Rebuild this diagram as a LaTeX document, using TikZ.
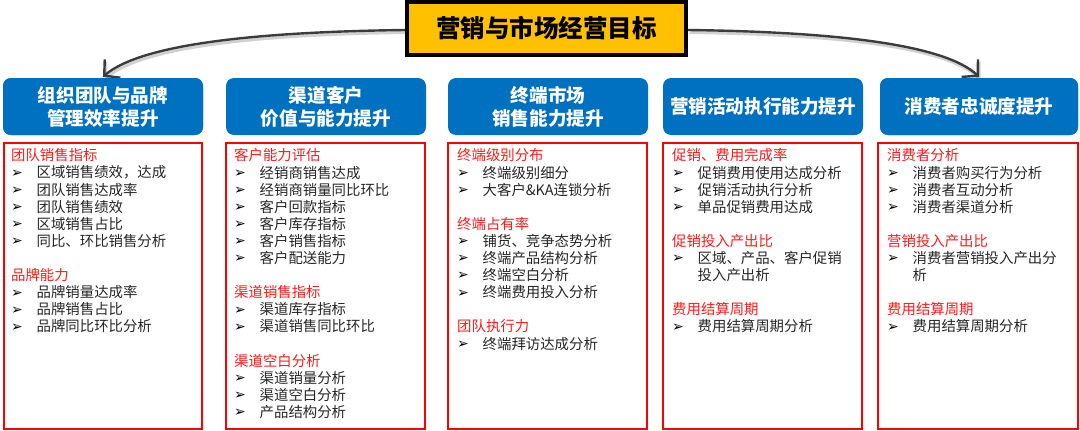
\documentclass[tikz,border=0pt]{standalone}
\usepackage{fontspec}
\setmainfont{Noto Sans CJK SC}
\newfontfamily\dejavu{DejaVu Sans}
\usetikzlibrary{arrows.meta}
\definecolor{hblue}{HTML}{0070C0}
\definecolor{tyellow}{HTML}{FFC000}
\definecolor{hred}{HTML}{FF1A1A}
\definecolor{itext}{HTML}{262626}
\definecolor{curvecol}{HTML}{3C3C3C}
\def\xa{11}\def\xb{234}\def\xc{457}\def\xd{672}\def\xe{887}
\newcommand\rowy[1]{155.5+17.1*#1}
\newcommand\hd[3]{\node[hdtext] (#1#2) at ({\csname x#1\endcsname},{\rowy{#2}}) {#3};}
\newcommand\itm[3]{\node[bul] (#1#2b) at ({\csname x#1\endcsname},{\rowy{#2}+1}) {➢};
  \node[itx] (#1#2) at ({\csname x#1\endcsname+25.5},{\rowy{#2}}) {#3};}
\newcommand\cont[3]{\node[itx] (#1#2) at ({\csname x#1\endcsname+25.5},{\rowy{#2}}) {#3};}
\begin{document}
\begin{tikzpicture}[x=1pt,y=-1pt,
  titlebox/.style={draw=black, line width=4pt, fill=tyellow, minimum width=279pt, minimum height=53pt, inner sep=0pt,
    font=\fontsize{24.5}{28}\selectfont\bfseries, text=black},
  hdrbox/.style={fill=hblue, rounded corners=8pt, minimum width=200pt, minimum height=57pt, inner sep=0pt,
    align=center, text=white, font=\fontsize{18.6}{23}\selectfont\bfseries},
  redbox/.style={draw=red, line width=1.5pt, minimum height=286pt, inner sep=0pt},
  hdtext/.style={anchor=west, inner sep=0pt, text=hred, font=\fontsize{14.4}{17}\selectfont},
  itx/.style={anchor=west, inner sep=0pt, text=itext, font=\fontsize{14.4}{17}\selectfont},
  bul/.style={anchor=west, inner sep=0pt, text=black, font=\dejavu\bfseries\fontsize{14}{16}\selectfont},
  tipstyle/.style={-{Straight Barb[length=11pt,width=24pt,line width=2.4pt]}},
  curveline/.style={draw=curvecol, line width=2.4pt, tipstyle},
  curveshadow/.style={draw=black, opacity=0.18, line width=3pt, tipstyle}
]
\useasboundingbox (0,0) rectangle (1080,431);
% nodes
\node[titlebox] (t) at (546.5,28.5) {营销与市场经营目标};
\node[hdrbox] (h1) at (103,106.5) {组织团队与品牌\\管理效率提升};
\node[hdrbox] (h2) at (326,106.5) {渠道客户\\价值与能力提升};
\node[hdrbox] (h3) at (548,106.5) {终端市场\\销售能力提升};
\node[hdrbox] (h4) at (763,106.5) {营销活动执行能力提升};
\node[hdrbox, minimum width=198pt] (h5) at (979,106.5) {消费者忠诚度提升};
% connectors
\draw[curveshadow, transform canvas={xshift=1.5pt,yshift=-2.5pt}] ([yshift=-1.5pt]t.west) .. controls (250,32) and (140,45) .. ([yshift=1pt]h1.north);
\draw[curveshadow, transform canvas={xshift=1.5pt,yshift=-2.5pt}] ([yshift=-1.5pt]t.east) .. controls (840,32) and (945,45) .. ([yshift=1pt]h5.north);
\draw[curveline] ([yshift=-1.5pt]t.west) .. controls (250,32) and (140,45) .. ([yshift=1pt]h1.north);
\draw[curveline] ([yshift=-1.5pt]t.east) .. controls (840,32) and (945,45) .. ([yshift=1pt]h5.north);
% redraw boxes on top
\node[titlebox] at (t) {营销与市场经营目标};
\node[hdrbox] at (h1) {组织团队与品牌\\管理效率提升};
\node[hdrbox] at (h5) [minimum width=198pt] {消费者忠诚度提升};
% red boxes
\node[redbox, minimum width=198pt] (r1) at (103,286) {};
\node[redbox, minimum width=199pt] (r2) at (325.5,286) {};
\node[redbox, minimum width=199pt] (r3) at (547.5,286) {};
\node[redbox, minimum width=199pt] (r4) at (762.5,286) {};
\node[redbox, minimum width=200pt] (r5) at (978,286) {};
% column a
\hd{a}{0}{团队销售指标}
\itm{a}{1}{区域销售绩效，达成}
\itm{a}{2}{团队销售达成率}
\itm{a}{3}{团队销售绩效}
\itm{a}{4}{区域销售占比}
\itm{a}{5}{同比、环比销售分析}
\hd{a}{7}{品牌能力}
\itm{a}{8}{品牌销量达成率}
\itm{a}{9}{品牌销售占比}
\itm{a}{10}{品牌同比环比分析}
% column b
\hd{b}{0}{客户能力评估}
\itm{b}{1}{经销商销售达成}
\itm{b}{2}{经销商销量同比环比}
\itm{b}{3}{客户回款指标}
\itm{b}{4}{客户库存指标}
\itm{b}{5}{客户销售指标}
\itm{b}{6}{客户配送能力}
\hd{b}{8}{渠道销售指标}
\itm{b}{9}{渠道库存指标}
\itm{b}{10}{渠道销售同比环比}
\hd{b}{12}{渠道空白分析}
\itm{b}{13}{渠道销量分析}
\itm{b}{14}{渠道空白分析}
\itm{b}{15}{产品结构分析}
% column c
\hd{c}{0}{终端级别分布}
\itm{c}{1}{终端级别细分}
\itm{c}{2}{大客户\&KA连锁分析}
\hd{c}{4}{终端占有率}
\itm{c}{5}{铺货、竞争态势分析}
\itm{c}{6}{终端产品结构分析}
\itm{c}{7}{终端空白分析}
\itm{c}{8}{终端费用投入分析}
\hd{c}{10}{团队执行力}
\itm{c}{11}{终端拜访达成分析}
% column d
\hd{d}{0}{促销、费用完成率}
\itm{d}{1}{促销费用使用达成分析}
\itm{d}{2}{促销活动执行分析}
\itm{d}{3}{单品促销费用达成}
\hd{d}{5}{促销投入产出比}
\itm{d}{6}{区域、产品、客户促销}
\cont{d}{7}{投入产出析}
\hd{d}{9}{费用结算周期}
\itm{d}{10}{费用结算周期分析}
% column e
\hd{e}{0}{消费者分析}
\itm{e}{1}{消费者购买行为分析}
\itm{e}{2}{消费者互动分析}
\itm{e}{3}{消费者渠道分析}
\hd{e}{5}{营销投入产出比}
\itm{e}{6}{消费者营销投入产出分}
\cont{e}{7}{析}
\hd{e}{9}{费用结算周期}
\itm{e}{10}{费用结算周期分析}
\end{tikzpicture}
\end{document}
